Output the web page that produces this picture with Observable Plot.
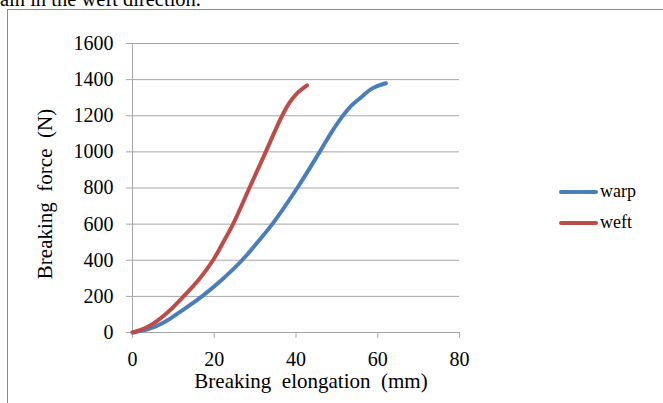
<!DOCTYPE html>
<html>
<head>
<meta charset="utf-8">
<script src="https://cdn.jsdelivr.net/npm/d3@7"></script>
<script src="https://cdn.jsdelivr.net/npm/@observablehq/plot@0.6"></script>
<style>
  html, body { margin: 0; padding: 0; background: #fff; overflow: hidden; }
  #wrap { position: relative; width: 663px; height: 403px; overflow: hidden; font-family: "Liberation Serif", "Times New Roman", serif; color: #000; }
  #wrap > * { position: absolute; }
  .t { white-space: pre; line-height: 1; }
  #chart svg, #chart svg text { font-family: "Liberation Serif", "Times New Roman", serif !important; }
</style>
</head>
<body>
<div id="wrap">
  <div class="t" style="left:0px; top:-11px; font-size:20.5px; line-height:20px;">ain in the weft direction.</div>
  <div style="left:7px; top:9px; width:700px; height:500px; border-left:1px solid #8a8a8a; border-top:1px solid #8a8a8a;"></div>
  <div id="chart" style="left:0; top:0;"></div>
  <div class="t" id="xtitle" style="left:311px; top:381px; transform:translate(-50%,-50%); font-size:21px;"></div>
  <div class="t" id="ytitle" style="left:44.5px; top:194px; transform:translate(-50%,-50%) rotate(-90deg); font-size:21px;"></div>
  <div id="legend" style="left:0; top:0;"></div>
</div>
<script>
// ---- data ----
const xTicks = [0, 20, 40, 60, 80];
const yTicks = [0, 200, 400, 600, 800, 1000, 1200, 1400, 1600];
const xTitle = "Breaking  elongation  (mm)";
const yTitle = "Breaking  force  (N)";
const seriesNames = ["warp", "weft"];
const seriesColors = ["#4a7ebb", "#be4b48"];

const warpX = [0, 4, 8, 12, 17, 22, 26.8, 30.6, 34.2, 40.3, 45.8, 48.6, 51.3, 53.5, 55.8, 58.2, 60, 62];
const warpY = [0, 20, 60, 120, 200, 295, 400, 500, 600, 800, 1000, 1105, 1195, 1255, 1300, 1345, 1365, 1380];
const weftX = [0, 4, 8, 12.5, 16.3, 19.7, 22.2, 24.6, 28.6, 32.6, 36.6, 38.5, 40.3, 42.7];
const weftY = [0, 35, 100, 200, 295, 400, 500, 600, 800, 1000, 1200, 1275, 1325, 1368];

const rows = [
  ...warpX.map((x, i) => ({series: "warp", x, y: warpY[i]})),
  ...weftX.map((x, i) => ({series: "weft", x, y: weftY[i]}))
];

const gridColor = "#a6a6a6";

const chart = Plot.plot({
  width: 663,
  height: 403,
  marginLeft: 132,
  marginRight: 204,
  marginTop: 43,
  marginBottom: 71,
  style: {fontFamily: "Liberation Serif", fontSize: "20px", color: "#000", background: "transparent", overflow: "visible"},
  x: {domain: [0, 80], ticks: xTicks},
  y: {domain: [0, 1600], ticks: yTicks},
  color: {domain: seriesNames, range: seriesColors},
  marks: [
    Plot.gridY(yTicks, {stroke: gridColor, strokeOpacity: 1}),
    Plot.ruleX([0], {stroke: gridColor, strokeWidth: 1}),
    Plot.axisY(yTicks, {tickSize: 6, tickPadding: 13, label: null, stroke: gridColor, fill: "#000", strokeOpacity: 1, tickFormat: d => String(d)}),
    Plot.axisX(xTicks, {tickSize: 6, tickPadding: 13, label: null, stroke: gridColor, fill: "#000", strokeOpacity: 1, tickFormat: d => String(d)}),
    Plot.line(rows, {x: "x", y: "y", z: "series", stroke: "series", strokeWidth: 4, curve: "catmull-rom", strokeLinecap: "round"})
  ]
});
document.getElementById("chart").appendChild(chart);

document.getElementById("xtitle").textContent = xTitle;
document.getElementById("ytitle").textContent = yTitle;

// legend
const legend = document.getElementById("legend");
const legendTop = [192, 223];
seriesNames.forEach((name, i) => {
  const sw = document.createElement("div");
  sw.style.cssText = `position:absolute;left:559px;top:${legendTop[i] - 2}px;width:39px;height:4px;border-radius:2px;background:${seriesColors[i]};`;
  legend.appendChild(sw);
  const lb = document.createElement("div");
  lb.className = "t";
  lb.style.cssText = `position:absolute;left:600px;top:${legendTop[i] - 10}px;font-size:18px;line-height:18px;white-space:pre;`;
  lb.textContent = name;
  legend.appendChild(lb);
});
</script>
</body>
</html>
